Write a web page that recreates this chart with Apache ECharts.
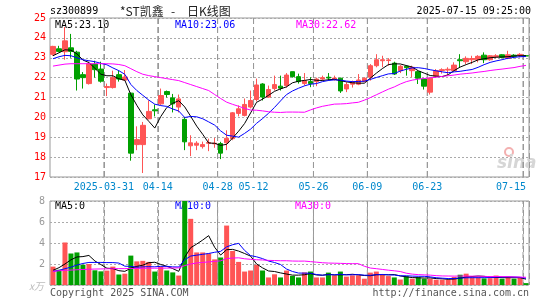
<!DOCTYPE html>
<html><head><meta charset="utf-8">
<script src="https://cdn.jsdelivr.net/npm/echarts@6/dist/echarts.min.js"></script>
<style>html,body{margin:0;padding:0;background:#fff}#c{width:545px;height:300px}</style>
</head><body><div id="c"></div>
<script>
// ---- data ----
const dates = ['2025-03-18','2025-03-19','2025-03-20','2025-03-21','2025-03-24','2025-03-25','2025-03-26','2025-03-27','2025-03-28','2025-03-31',
'2025-04-01','2025-04-02','2025-04-03','2025-04-07','2025-04-08','2025-04-09','2025-04-10','2025-04-11','2025-04-14','2025-04-15',
'2025-04-16','2025-04-17','2025-04-18','2025-04-21','2025-04-22','2025-04-23','2025-04-24','2025-04-25','2025-04-28','2025-04-29',
'2025-05-06','2025-05-07','2025-05-08','2025-05-09','2025-05-12','2025-05-13','2025-05-14','2025-05-15','2025-05-16','2025-05-19',
'2025-05-20','2025-05-21','2025-05-22','2025-05-23','2025-05-26','2025-05-27','2025-05-28','2025-05-29','2025-05-30','2025-06-03',
'2025-06-04','2025-06-05','2025-06-06','2025-06-09','2025-06-10','2025-06-11','2025-06-12','2025-06-13','2025-06-16','2025-06-17',
'2025-06-18','2025-06-19','2025-06-20','2025-06-23','2025-06-24','2025-06-25','2025-06-26','2025-06-27','2025-06-30','2025-07-01',
'2025-07-02','2025-07-03','2025-07-04','2025-07-07','2025-07-08','2025-07-09','2025-07-10','2025-07-11','2025-07-14','2025-07-15'];
const opens = [23.17,23.45,23.3,23.5,23.28,22.15,21.7,22.68,22.43,21.5,
21.5,22.15,21.88,21.22,18.63,18.63,19.93,20.38,20.68,21.3,
20.98,20.52,19.9,18.57,18.6,18.53,18.7,18.67,18.68,18.72,
18.93,20.2,20.1,20.52,20.9,21.68,21.02,21.45,21.57,21.6,
22.3,22.05,21.7,21.8,21.8,21.93,22.02,21.9,21.97,21.43,
21.67,21.67,21.8,22.02,22.6,22.85,22.86,22.73,22.35,22.57,
22.35,22.3,21.93,21.27,22.07,22.36,22.38,22.35,22.9,22.8,
22.9,22.9,23.13,22.9,23.05,23.15,22.97,23.13,23.1,23.1];
const closes = [23.57,23.32,23.85,23.32,21.93,22.0,22.7,22.4,21.82,21.55,
22.0,21.93,22.03,18.2,18.88,19.6,20.3,20.33,21.1,21.15,
20.68,20.93,18.77,18.72,18.7,18.63,18.73,18.7,18.2,18.95,
20.23,20.43,20.65,20.85,21.63,21.02,21.4,21.65,21.47,22.13,
22.05,21.8,21.85,21.7,21.93,22.0,21.98,21.98,21.33,21.65,
21.77,21.88,21.97,22.6,22.9,22.9,22.89,22.18,22.57,22.5,
22.52,21.97,21.57,21.97,22.35,22.4,22.42,22.63,22.85,22.97,
22.96,23.07,22.9,23.1,23.1,23.02,23.15,23.07,23.17,23.09];
const lows = [23.1,23.28,22.9,23.0,21.35,21.45,21.65,22.0,21.75,21.07,
21.45,21.8,21.85,17.82,18.35,17.2,19.9,20.05,20.62,21.0,
20.25,20.25,18.35,18.05,18.35,18.43,18.3,18.47,17.9,18.35,
18.85,20.05,20.05,20.45,20.8,20.85,20.98,21.35,21.35,21.5,
22.0,21.7,21.6,21.52,21.57,21.85,21.85,21.85,21.23,21.27,
21.5,21.62,21.77,21.85,22.52,22.52,22.6,22.13,22.23,22.1,
22.02,21.68,21.4,21.15,22.02,22.2,22.13,22.3,22.52,22.68,
22.68,22.77,22.73,22.85,22.97,22.97,22.93,22.97,23.02,23.09];
const highs = [23.6,23.6,24.55,24.2,23.35,22.28,22.8,22.85,22.8,21.7,
22.35,22.35,22.38,21.25,19.55,19.77,20.85,20.65,21.45,21.35,
21.18,21.15,20.02,19.1,18.8,18.78,18.93,18.97,18.77,19.35,
20.27,20.6,20.95,21.35,21.95,21.72,21.6,22.1,22.1,22.23,
22.3,22.2,22.23,22.02,22.0,22.1,22.23,22.1,22.0,21.77,
21.85,22.18,22.02,22.68,23.18,23.1,22.98,22.8,22.63,22.62,
22.6,22.35,21.95,22.0,22.43,22.47,22.52,22.77,23.18,23.07,
23.1,23.13,23.27,23.13,23.18,23.18,23.35,23.18,23.23,23.1];
const volumes = [1.75,1.45,4.05,3.0,3.1,1.93,2.0,1.4,1.3,1.37,
1.75,1.0,1.08,2.8,2.25,2.3,2.2,1.28,1.75,1.38,
1.2,0.9,8.0,6.3,3.1,3.1,3.0,2.44,2.62,5.66,
3.24,2.2,1.28,1.38,1.92,1.38,0.72,1.02,0.72,1.38,
0.86,0.72,1.2,1.28,0.72,0.72,1.18,0.92,1.28,0.8,
0.92,0.92,0.6,1.18,1.28,0.95,0.85,0.72,0.52,0.85,
0.6,0.75,0.6,0.6,0.5,0.5,0.5,0.76,0.98,1.08,
0.72,0.72,0.63,0.65,0.9,0.6,0.72,0.6,0.68,0.18];
// moving-average values at the start of the window (they depend on days before it)
const ma5Head = [23.1,23.25,23.4,23.38];
const ma10Head = [22.95,23.05,23.12,23.1,23.0,22.9,22.85,22.8,22.72];
const ma30Head = [22.58,22.63,22.68,22.7,22.7,22.7,22.7,22.7,22.7,22.7,22.69,22.66,22.6,22.45,22.3,22.17,22.1,22.05,22.0,21.95,21.9,21.85,21.75,21.65,21.55,21.45,21.35,21.15,20.95];
const vma5Head = [1.4,1.65,2.0,2.4];
const vma10Head = [1.3,1.4,1.55,1.7,1.9,2.05,2.15,2.15,2.15];
const vma30Head = [1.3,1.35,1.4,1.42,1.45,1.48,1.5,1.52,1.53,1.54,1.55,1.56,1.56,1.57,1.58,1.59,1.6,1.6,1.6,1.61,1.62,1.63,1.85,2.0,2.1,2.15,2.2,2.25,2.3];
const labelDates = ['2025-03-31','2025-04-14','2025-04-28','2025-05-12','2025-05-26','2025-06-09','2025-06-23','2025-07-15'];
const yTicks = {min:17, max:25, step:1};
const vTicks = {min:0, max:8, step:2};
const headerCode = 'sz300899', headerName = '*ST凯鑫', headerKind = '日K线图', headerTime = '2025-07-15 09:25:00';
const maTexts = ['MA5:23.10','MA10:23.06','MA30:22.62'];
const vmaTexts = ['MA5:0','MA10:0','MA30:0'];

// ---- build ----
function ma(arr, n, head){
  return arr.map((_, i) => {
    if (i < n - 1) return head[i];
    let s = 0; for (let k = i - n + 1; k <= i; k++) s += arr[k];
    return +(s / n).toFixed(3);
  });
}
const RED = '#ff5555', GREEN = '#00a000';
const FONT = 'DejaVu Sans Mono';
const labelList = labelDates.map(d => dates.indexOf(d));
const labelIdx = new Set(labelList);
const lastIdx = dates.length - 1;
const kData = dates.map((d, i) => [opens[i], closes[i], lows[i], highs[i]]);
const volData = volumes.map((v, i) => ({value: v, itemStyle: {color: closes[i] >= opens[i] ? RED : GREEN}}));
const dotH = () => ({show: true, lineStyle: {color: '#aaa', type: [2, 2], width: 1}});
// vertical dashed separators at the left edge of each labelled day's slot
const dashV = () => ({show: true, interval: (i) => labelIdx.has(i), lineStyle: {color: '#999', type: [6, 3], width: 1}});
const sepSeries = (xi, yi, lo, hi) => ({type: 'line', xAxisIndex: xi, yAxisIndex: yi, silent: true, z: 2,
  symbol: 'none', showSymbol: false, connectNulls: false,
  lineStyle: {color: '#999', type: [6, 3], width: 1},
  data: labelList.flatMap(i => [[i, lo], [i, hi], [i, null]])});
const line = (name, data, color, xi, yi) => ({type: 'line', name, data, xAxisIndex: xi, yAxisIndex: yi, showSymbol: false, symbol: 'none',
  lineStyle: {color, width: 1}, itemStyle: {color}, silent: true, z: 5});

const chart = echarts.init(document.getElementById('c'));
const txt = (x, y, text, fill, extra) => ({type: 'text', x, y,
  style: Object.assign({text, fill, font: '10px "' + FONT + '"', textVerticalAlign: 'middle'}, extra || {})});
const axLabStyle = () => ({color: '#0088cc', fontFamily: FONT, fontSize: 10});
chart.setOption({
  animation: false,
  backgroundColor: '#fff',
  grid: [
    {left: 50, right: 16, top: 18, height: 159, show: true, borderColor: '#999'},
    {left: 50, right: 16, top: 201, height: 84, show: true, borderColor: '#999'}
  ],
  xAxis: [
    {type: 'category', gridIndex: 0, data: dates, boundaryGap: true,
     axisLine: {show: false}, axisTick: {show: false}, splitLine: dashV(),
     axisLabel: {interval: (i) => labelIdx.has(i), margin: 5,
       formatter: (v) => {
         const t = v === labelDates[0] ? v : v.slice(5);
         return (dates.indexOf(v) === lastIdx ? '{b|' : '{a|') + t + '}';
       },
       rich: {a: Object.assign({padding: [0, 6, 0, 0]}, axLabStyle()), b: Object.assign({padding: [0, 30, 0, 0]}, axLabStyle())}}},
    {type: 'category', gridIndex: 1, data: dates, boundaryGap: true,
     axisLine: {show: false}, axisTick: {show: false}, axisLabel: {show: false}, splitLine: dashV()},
    {type: 'value', gridIndex: 0, min: 0, max: dates.length, show: false},
    {type: 'value', gridIndex: 1, min: 0, max: dates.length, show: false}
  ],
  yAxis: [
    {type: 'value', gridIndex: 0, min: yTicks.min, max: yTicks.max, interval: yTicks.step,
     axisLine: {show: false}, axisTick: {show: false},
     axisLabel: {color: '#ff0000', fontFamily: FONT, fontSize: 10, margin: 4},
     splitLine: dotH()},
    {type: 'value', gridIndex: 1, min: vTicks.min, max: vTicks.max, interval: vTicks.step,
     axisLine: {show: false}, axisTick: {show: false},
     axisLabel: {color: '#999', fontFamily: FONT, fontSize: 10, margin: 5,
       formatter: (v) => v === 0 ? '' : String(v)},
     splitLine: dotH()}
  ],
  series: [
    sepSeries(2, 0, yTicks.min, yTicks.max),
    sepSeries(3, 1, vTicks.min, vTicks.max),
    {type: 'candlestick', data: kData, xAxisIndex: 0, yAxisIndex: 0, barWidth: 5,
     itemStyle: {color: RED, color0: GREEN, borderColor: RED, borderColor0: GREEN, borderWidth: 1}, z: 3},
    line('MA5', ma(closes, 5, ma5Head), '#000000', 0, 0),
    line('MA10', ma(closes, 10, ma10Head), '#0000ff', 0, 0),
    line('MA30', ma(closes, 30, ma30Head), '#ff00ff', 0, 0),
    {type: 'bar', data: volData, xAxisIndex: 1, yAxisIndex: 1, barWidth: 5, z: 3},
    line('VMA5', ma(volumes, 5, vma5Head), '#000000', 1, 1),
    line('VMA10', ma(volumes, 10, vma10Head), '#0000ff', 1, 1),
    line('VMA30', ma(volumes, 30, vma30Head), '#ff00ff', 1, 1)
  ],
  graphic: [
    txt(50, 11, headerCode, '#000'),
    {type: 'text', x: 120, y: 11, style: {text: headerName, fill: '#222', font: '12px "Noto Sans CJK SC"', textVerticalAlign: 'middle'}},
    {type: 'text', x: 171, y: 11, style: {text: '-', fill: '#222', font: '12px "Noto Sans CJK SC"', textVerticalAlign: 'middle'}},
    {type: 'text', x: 187, y: 11, style: {text: headerKind, fill: '#222', font: '12px "Noto Sans CJK SC"', textVerticalAlign: 'middle'}},
    txt(531, 11, headerTime, '#000', {textAlign: 'right'}),
    txt(55, 25, maTexts[0], '#000'),
    txt(175, 25, maTexts[1], '#0000ff'),
    txt(296, 25, maTexts[2], '#ff00ff'),
    txt(55, 206, vmaTexts[0], '#000'),
    txt(175, 206, vmaTexts[1], '#0000ff'),
    txt(295, 206, vmaTexts[2], '#ff00ff'),
    {type: 'text', x: 44, y: 286, style: {text: 'x万', fill: '#bbb', font: 'italic 10px "Noto Sans CJK SC"', textAlign: 'right', textVerticalAlign: 'middle'}},
    txt(50, 293, 'Copyright 2025 SINA.COM', '#555'),
    txt(529, 293, 'http://finance.sina.com.cn', '#555', {textAlign: 'right'}),
    {type: 'circle', shape: {cx: 509, cy: 152, r: 4}, style: {fill: 'none', stroke: '#f3b0b0', lineWidth: 2}, silent: true},
    {type: 'text', x: 497, y: 164, style: {text: 'sina', fill: '#d6d6d6', font: 'italic bold 17px "DejaVu Sans"', textVerticalAlign: 'middle'}, silent: true}
  ]
});
</script></body></html>
